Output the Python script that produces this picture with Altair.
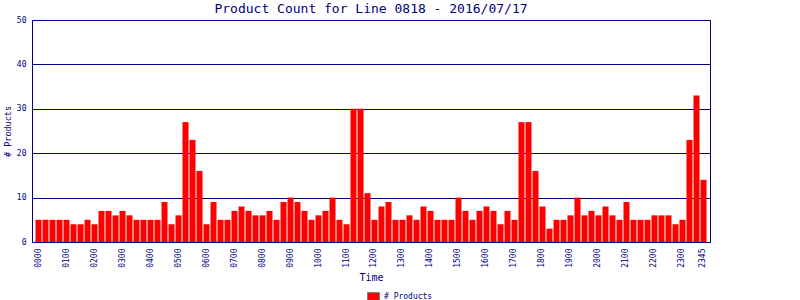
import altair as alt
import pandas as pd

# Time slots (every 15 minutes) and product counts
times = [f"{h:02d}{m:02d}" for h in range(24) for m in (0, 15, 30, 45)]
counts = [
    5, 5, 5, 5,    # 00
    5, 4, 4, 5,    # 01
    4, 7, 7, 6,    # 02
    7, 6, 5, 5,    # 03
    5, 5, 9, 4,    # 04
    6, 27, 23, 16, # 05
    4, 9, 5, 5,    # 06
    7, 8, 7, 6,    # 07
    6, 7, 5, 9,    # 08
    10, 9, 7, 5,   # 09
    6, 7, 10, 5,   # 10
    4, 30, 30, 11, # 11
    5, 8, 9, 5,    # 12
    5, 6, 5, 8,    # 13
    7, 5, 5, 5,    # 14
    10, 7, 5, 7,   # 15
    8, 7, 4, 7,    # 16
    5, 27, 27, 16, # 17
    8, 3, 5, 5,    # 18
    6, 10, 6, 7,   # 19
    6, 8, 6, 5,    # 20
    9, 5, 5, 5,    # 21
    6, 6, 6, 4,    # 22
    5, 23, 33, 14, # 23
]
x_tick_labels = [f"{h:02d}00" for h in range(24)] + ["2345"]
y_ticks = [0, 10, 20, 30, 40, 50]
series_name = "# Products"

df = pd.DataFrame({"time": times, "count": counts, "series": series_name})

NAVY = "#000080"
FONT = "DejaVu Sans Mono"

chart = alt.Chart(df).mark_bar(color="#ff0000").encode(
    x=alt.X(
        "time:O",
        sort=times,
        scale=alt.Scale(paddingInner=0.14, paddingOuter=0.5),
        axis=alt.Axis(
            values=x_tick_labels,
            labelAngle=270,
            ticks=False,
            grid=False,
            labelPadding=6,
            labelFontSize=8,
            title="Time",
            titleFontSize=10,
            titlePadding=5,
        ),
    ),
    y=alt.Y(
        "count:Q",
        scale=alt.Scale(domain=[0, 50], nice=False),
        axis=alt.Axis(
            values=y_ticks,
            ticks=False,
            grid=True,
            labelPadding=6,
            labelFontSize=8,
            title="# Products",
            titleFontSize=8.5,
            titlePadding=4,
        ),
    ),
    color=alt.Color(
        "series:N",
        scale=alt.Scale(domain=[series_name], range=["#ff0000"]),
        legend=alt.Legend(
            title=None,
            orient="none",
            legendX=335,
            legendY=270,
            symbolType="M-1,-0.65H1V0.65H-1Z",
            symbolSize=144,
            symbolStrokeColor="#808080",
            symbolStrokeWidth=1,
            symbolOpacity=1,
            labelFont=FONT,
            labelFontSize=8,
            labelColor=NAVY,
            labelOffset=4,
        ),
    ),
).properties(
    width=678,
    height=222,
    background="white",
    title=alt.Title(
        "Product Count for Line 0818 - 2016/07/17",
        font=FONT,
        fontSize=13,
        fontWeight="normal",
        color=NAVY,
        anchor="middle",
        offset=0,
    ),
    autosize=alt.AutoSizeParams(type="none"),
    padding={"left": 32, "top": 20, "right": 90, "bottom": 58},
).configure_view(
    stroke=NAVY, strokeWidth=1
).configure_axis(
    domainColor=NAVY,
    domainWidth=1,
    gridColor=NAVY,
    gridOpacity=1,
    gridWidth=1,
    labelColor=NAVY,
    titleColor=NAVY,
    labelFont=FONT,
    titleFont=FONT,
    titleFontWeight="normal",
)

chart.save("out.html", embed_options={"renderer": "svg", "actions": False})
